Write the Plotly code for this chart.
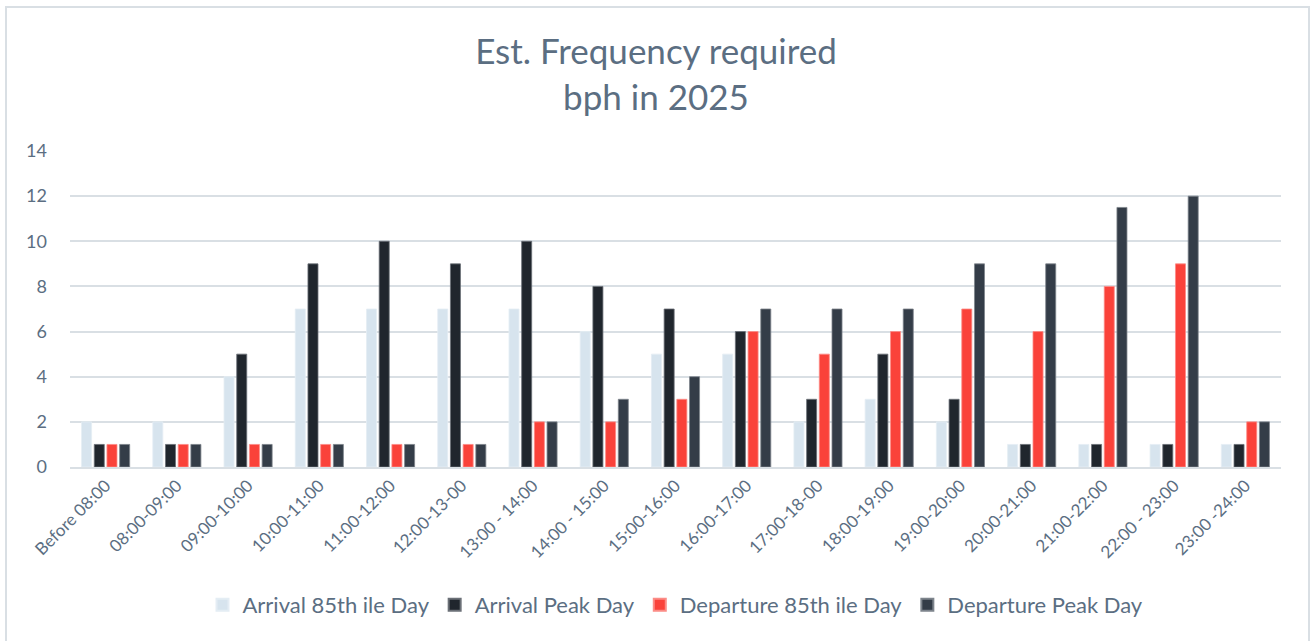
import plotly.graph_objects as go

categories = ["Before 08:00", "08:00-09:00", "09:00-10:00", "10:00-11:00", "11:00-12:00",
              "12:00-13-00", "13:00 - 14:00", "14:00 - 15:00", "15:00-16:00", "16:00-17:00",
              "17:00-18-00", "18:00-19:00", "19:00-20:00", "20:00-21:00", "21:00-22:00",
              "22:00 - 23:00", "23:00 -24:00"]
arrival_85 = [2, 2, 4, 7, 7, 7, 7, 6, 5, 5, 2, 3, 2, 1, 1, 1, 1]
arrival_peak = [1, 1, 5, 9, 10, 9, 10, 8, 7, 6, 3, 5, 3, 1, 1, 1, 1]
departure_85 = [1, 1, 1, 1, 1, 1, 2, 2, 3, 6, 5, 6, 7, 6, 8, 9, 2]
departure_peak = [1, 1, 1, 1, 1, 1, 2, 3, 4, 7, 7, 7, 9, 9, 11.5, 12, 2]
y_ticks = [0, 2, 4, 6, 8, 10, 12, 14]

series = [
    ("Arrival 85th ile Day", arrival_85, "#d7e4ee", "#e4edf4"),
    ("Arrival Peak Day", arrival_peak, "#20262d", "#6b7077"),
    ("Departure 85th ile Day", departure_85, "#fa423a", "#fc8c86"),
    ("Departure Peak Day", departure_peak, "#343d48", "#7d848c"),
]

fig = go.Figure()
for name, vals, col, edge in series:
    fig.add_trace(go.Bar(x=categories, y=vals, name=name,
                         marker=dict(color=col, line=dict(color=edge, width=0.8))))

W, H = 1312, 641
L, R, T, B = 70, 31, 151, 174
pw, ph = W - L - R, H - T - B

def px_x(x):
    return (x - L) / pw

def px_y(y):
    return (H - B - y) / ph

text_col = "#5b6e82"
fig.update_layout(
    width=W, height=H,
    margin=dict(l=L, r=R, t=T, b=B),
    paper_bgcolor="white", plot_bgcolor="white",
    barmode="group", bargap=0.287, bargroupgap=0.21,
    title=dict(text="Est. Frequency required<br>bph in 2025", x=0.5, xanchor="center",
               y=1 - 64 / H, yanchor="middle",
               font=dict(family="Lato, Open Sans, sans-serif", size=35, color=text_col)),
    font=dict(family="Lato, Open Sans, sans-serif", color=text_col),
    legend=dict(orientation="h", x=0.5, xanchor="center", y=px_y(605), yanchor="middle",
                font=dict(size=22, color=text_col), itemsizing="constant"),
    showlegend=True,
)
fig.update_yaxes(range=[0, 14], tickvals=y_ticks, showgrid=True, gridcolor="#d9dfe4",
                 gridwidth=1.6, zeroline=False, showline=False, ticks="",
                 tickfont=dict(size=18, color=text_col), ticklabelstandoff=22)
fig.update_xaxes(showline=True, linecolor="#d9dfe4", linewidth=2, showgrid=False,
                 tickangle=-45, tickfont=dict(size=17, color=text_col), ticks="")
fig.add_shape(type="rect", xref="paper", yref="paper",
              x0=px_x(6), x1=px_x(1309), y0=px_y(660), y1=px_y(7),
              line=dict(color="#d9dfe4", width=2), fillcolor="rgba(0,0,0,0)", layer="below")

fig.write_html("out.html", config={"displayModeBar": False},
               post_script="document.body.style.margin='0px';")
